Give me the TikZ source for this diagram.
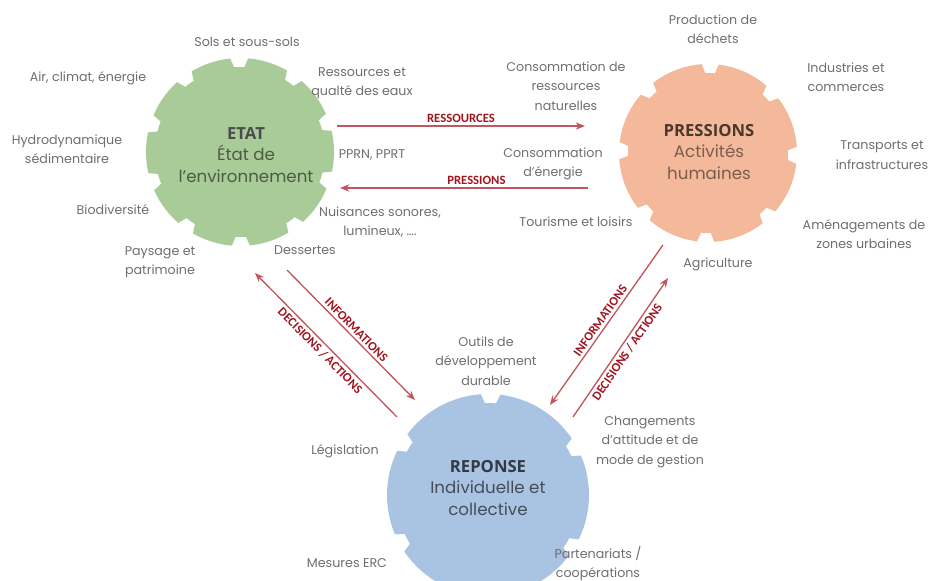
\documentclass[tikz,border=0pt]{standalone}
\usepackage{fontspec}
\setmainfont{Poppins}
\newfontfamily\headfont{Open Sans}
\newfontfamily\arrowfont{Carlito}
\usetikzlibrary{arrows.meta,positioning}
\tikzset{>={Stealth[length=7pt,width=5.5pt]}}
\colorlet{background}{white}
\definecolor{etatColor}{HTML}{A9CB98}
\definecolor{pressColor}{HTML}{F4B99A}
\definecolor{repColor}{HTML}{A9C3E2}
\definecolor{labelColor}{HTML}{6E6E6E}
\definecolor{lineColor}{HTML}{C2555D}
\definecolor{tipColor}{HTML}{A0141E}
\tikzset{
  lbl/.style={text=labelColor, align=center, font=\fontsize{9.5}{14.5}\selectfont},
  title/.style={align=center, font=\fontsize{12.5}{16.5}\selectfont},
  flow/.style={->, lineColor, line width=1pt},
  flowlbl/.style={midway, sloped, text=tipColor, font=\arrowfont\bfseries\fontsize{9.5}{11}\selectfont, inner sep=2pt}
}
% notched disc: colour, centre, radius, number of notches, start angle
\newcommand{\gear}[5]{%
  \pgfmathsetmacro{\gstep}{360/#4}%
  \pgfmathsetmacro{\gin}{#3-9}%
  \fill[#1,shift={(#2)}] (#5:#3) \foreach \k [evaluate=\k as \aA using #5+(\k-1)*\gstep,
      evaluate=\k as \aB using #5+\k*\gstep-12, evaluate=\k as \aC using #5+\k*\gstep-10,
      evaluate=\k as \aD using #5+\k*\gstep-3, evaluate=\k as \aE using #5+\k*\gstep-1] in {1,...,#4}{
    arc[start angle=\aA, end angle=\aB, radius=#3] -- (\aC:\gin)
    arc[start angle=\aC, end angle=\aD, radius=\gin] -- (\aE:#3)
    arc[start angle=\aE, end angle=\aE+1, radius=#3]} -- cycle;}

\begin{document}
\begin{tikzpicture}[x=0.75pt,y=0.75pt]
\useasboundingbox (0,0) rectangle (935,581);
\gear{etatColor}{240,429}{94}{10}{25}
\gear{pressColor}{708,428}{89}{8}{50}
\gear{repColor}{488,86}{101}{6}{35}
% centres
\node[title] (etat) at (246,426) {{\headfont\bfseries\color{black!70}ETAT}\\[-1pt]
  \color{etatColor!45!black}État de\\ \color{etatColor!45!black}l'environnement};
\node[title] (pressions) at (709,429) {{\headfont\bfseries\color{black!70!pressColor}PRESSIONS}\\[-1pt]
  \color{pressColor!50!black}Activités\\ \color{pressColor!50!black}humaines};
\node[title] (reponse) at (488,93) {{\headfont\bfseries\color{black!70!repColor}REPONSE}\\[-1pt]
  \color{repColor!40!black}Individuelle et\\ \color{repColor!40!black}collective};
% etat
\node[lbl] (lSols) at (247,539) {Sols et sous-sols};
\node[lbl] (lAir) at (88,503) {Air, climat, énergie};
\node[lbl] (lEaux) at (362,498) {Ressources et\\qualté des eaux};
\node[lbl] (lHydro) at (67,432) {Hydrodynamique\\sédimentaire};
\node[lbl] (lPPRN) at (372,426) {PPRN, PPRT};
\node[lbl] (lBio) at (113,371) {Biodiversité};
\node[lbl] (lNuis) at (380,359) {Nuisances sonores,\\lumineux, \dots.};
\node[lbl] (lPaysage) at (160,319) {Paysage et\\patrimoine};
\node[lbl] (lDessertes) at (305,331) {Dessertes};
% pressions
\node[lbl] (lDechets) at (713,552) {Production de\\déchets};
\node[lbl] (lConsoRes) at (566,495) {Consommation de\\ressources\\naturelles};
\node[lbl] (lIndus) at (846,504) {Industries et\\commerces};
\node[lbl] (lConsoEn) at (553,417) {Consommation\\d’énergie};
\node[lbl] (lTransp) at (882,426) {Transports et\\infrastructures};
\node[lbl] (lTourisme) at (576,359) {Tourisme et loisirs};
\node[lbl] (lAmenag) at (864,347) {Aménagements de\\zones urbaines};
\node[lbl] (lAgri) at (718,317) {Agriculture};
% reponse
\node[lbl] (lOutils) at (486,220) {Outils de\\développement\\durable};
\node[lbl] (lLegis) at (345,130) {Législation};
\node[lbl] (lChang) at (650,139) {Changements\\d’attitude et de\\mode de gestion};
\node[lbl] (lERC) at (347,18) {Mesures ERC};
\node[lbl] (lPartn) at (598,17) {Partenariats /\\coopérations};
% flows
\coordinate (resA) at (337,455);
\coordinate (resB) at (585,455);
\coordinate (preA) at (588,393);
\coordinate (preB) at (340,393);
\coordinate (infLA) at (287,311);
\coordinate (infLB) at (415,181);
\coordinate (decLA) at (397,164);
\coordinate (decLB) at (255,308);
\coordinate (infRA) at (663,336);
\coordinate (infRB) at (550,176);
\coordinate (decRA) at (573,164);
\coordinate (decRB) at (668,303);
\draw[flow] (resA) -- (resB) node[flowlbl, above] {RESSOURCES};
\draw[flow] (preA) -- (preB) node[flowlbl, above, pos=0.45] {PRESSIONS};
\draw[flow] (infLA) -- (infLB) node[flowlbl, above] {INFORMATIONS};
\draw[flow] (decLA) -- (decLB) node[flowlbl, below] {DECISIONS / ACTIONS};
\draw[flow] (infRA) -- (infRB) node[flowlbl, above] {INFORMATIONS};
\draw[flow] (decRA) -- (decRB) node[flowlbl, below] {DECISIONS / ACTIONS};
\end{tikzpicture}
\end{document}
